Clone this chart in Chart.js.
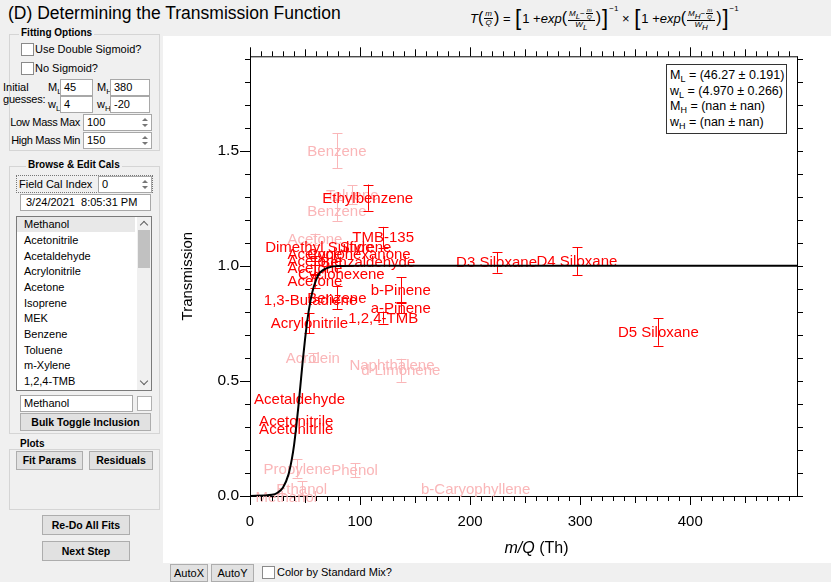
<!DOCTYPE html>
<html>
<head>
<meta charset="utf-8">
<script src="https://cdn.jsdelivr.net/npm/chart.js@4/dist/chart.umd.min.js"></script>
<style>
  body { margin:0; width:831px; height:582px; background:#f0f0f0; position:relative; overflow:hidden;
         font-family:"Liberation Sans", Arial, sans-serif; font-size:11px; color:#000; }
  .abs { position:absolute; white-space:nowrap; }
  #title { left:8px; top:3px; font-size:17.5px; }
  #formula { left:470px; top:3px; height:30px; font-family:"Liberation Sans Narrow","Liberation Sans",Arial,sans-serif;
             font-size:13px; font-style:italic; display:flex; align-items:center; }
  .frac { display:inline-flex; flex-direction:column; align-items:center; vertical-align:middle; font-size:8px; line-height:8px; margin:0 1px; }
  .frac > span:first-child { border-bottom:1px solid #000; padding:0 1px; }
  .frac .frac { font-size:6px; line-height:6px; }
  .bk { font-style:normal; font-size:22px; font-weight:200; line-height:22px; margin:0 1px; }
  .pr { font-style:normal; font-size:16px; }
  .sup { font-size:8px; position:relative; top:-10px; font-style:normal; }
  .up { font-style:normal; }
  #plotbg { left:163px; top:36px; width:668px; height:527px; background:#fff; }
  #chartbox { left:163px; top:36px; width:668px; height:527px; }
  .grp { border:1px solid #d5d5d5; }
  .gtitle { font-weight:bold; font-size:10px; background:#f0f0f0; padding:0 2px; }
  .cb { width:11px; height:11px; background:#fff; border:1px solid #8a8a8a; }
  .inp { background:#fff; border:1px solid #a8a8a8; line-height:15px; padding-left:3px; box-sizing:border-box; height:17px; }
  .spin { position:absolute; right:3px; top:3px; width:6px; height:9px; }
  .spin:before { content:""; position:absolute; left:0; top:0; border-left:3px solid transparent; border-right:3px solid transparent; border-bottom:3px solid #777; }
  .spin:after { content:""; position:absolute; left:0; bottom:0; border-left:3px solid transparent; border-right:3px solid transparent; border-top:3px solid #777; }
  .btn { background:#e1e1e1; border:1px solid #adadad; text-align:center; font-weight:bold; font-size:10.5px; box-sizing:border-box; }
  .btn2 { background:#e1e1e1; border:1px solid #adadad; text-align:center; box-sizing:border-box; font-size:11px; }
  .li { left:24px; }
  .rl { text-align:right; width:70px; letter-spacing:-0.3px; }
  sub { font-size:8px; vertical-align:-3px; line-height:0; }
  #fitbox { left:666px; top:64px; width:121px; height:70px; background:#fff; border:1px solid #333; box-sizing:border-box;
            font-size:12.5px; line-height:15.5px; padding:3px 0 0 3px; }
  #fitbox sub { font-size:9px; }
</style>
</head>
<body>
<div id="title" class="abs">(D) Determining the Transmission Function</div>
<div id="formula" class="abs">
  <span>T</span><span class="pr">(</span><span class="frac"><span>m</span><span>Q</span></span><span class="pr">)</span><span class="up">&nbsp;=&nbsp;</span>
  <span class="bk">[</span><span class="up">1 + </span><span>exp</span><span class="pr">(</span><span class="frac"><span>M<sub>L</sub>−<span class="frac"><span>m</span><span>Q</span></span></span><span>W<sub>L</sub></span></span><span class="pr">)</span><span class="bk">]</span><span class="sup">−1</span>
  <span class="up">&nbsp;×&nbsp;</span>
  <span class="bk">[</span><span class="up">1 + </span><span>exp</span><span class="pr">(</span><span class="frac"><span>M<sub>H</sub>−<span class="frac"><span>m</span><span>Q</span></span></span><span>W<sub>H</sub></span></span><span class="pr">)</span><span class="bk">]</span><span class="sup">−1</span>
</div>

<!-- Fitting options -->
<div class="abs grp" style="left:9px;top:34px;width:149px;height:115px;"></div>
<div class="abs gtitle" style="left:19px;top:27px;">Fitting Options</div>
<div class="abs cb" style="left:21px;top:43px;"></div>
<div class="abs" style="left:35px;top:43px;">Use Double Sigmoid?</div>
<div class="abs cb" style="left:21px;top:62px;"></div>
<div class="abs" style="left:35px;top:62px;">No Sigmoid?</div>
<div class="abs" style="left:3px;top:81px;">Initial</div>
<div class="abs" style="left:3px;top:93px;letter-spacing:-0.2px;">guesses:</div>
<div class="abs" style="left:48px;top:81px;">M<sub>L</sub></div>
<div class="abs inp" style="left:60px;top:79px;width:33px;">45</div>
<div class="abs" style="left:97px;top:81px;">M<sub>H</sub></div>
<div class="abs inp" style="left:110px;top:79px;width:40px;">380</div>
<div class="abs" style="left:48px;top:98px;">w<sub>L</sub></div>
<div class="abs inp" style="left:60px;top:96px;width:33px;">4</div>
<div class="abs" style="left:97px;top:98px;">w<sub>H</sub></div>
<div class="abs inp" style="left:110px;top:96px;width:40px;">-20</div>
<div class="abs rl" style="left:10px;top:116px;">Low Mass Max</div>
<div class="abs inp" style="left:83px;top:114px;width:69px;">100<span class="spin"></span></div>
<div class="abs rl" style="left:10px;top:134px;">High Mass Min</div>
<div class="abs inp" style="left:83px;top:132px;width:69px;">150<span class="spin"></span></div>

<!-- Browse & edit cals -->
<div class="abs grp" style="left:9px;top:166px;width:149px;height:266px;"></div>
<div class="abs gtitle" style="left:26px;top:159px;">Browse &amp; Edit Cals</div>
<div class="abs" style="left:16px;top:175px;width:137px;height:18px;border:1px dotted #777;box-sizing:border-box;"></div>
<div class="abs" style="left:19px;top:178px;">Field Cal Index</div>
<div class="abs inp" style="left:98px;top:176px;width:54px;">0<span class="spin"></span></div>
<div class="abs inp" style="left:20px;top:194px;width:131px;padding-left:5px;">3/24/2021&nbsp; 8:05:31 PM</div>
<div class="abs" style="left:16px;top:216px;width:136px;height:175px;background:#fff;border:1px solid #7a7a7a;box-sizing:border-box;"></div>
<div class="abs" style="left:17px;top:217px;width:118px;height:15px;background:#e8e8e8;"></div>
<div class="abs" style="left:137px;top:217px;width:14px;height:173px;background:#f0f0f0;"></div>
<div class="abs" style="left:138px;top:230px;width:12px;height:38px;background:#c1c1c1;"></div>
<div class="abs" style="left:141px;top:222px;width:5px;height:5px;border-left:1px solid #606060;border-top:1px solid #606060;transform:rotate(45deg);"></div>
<div class="abs" style="left:141px;top:378px;width:5px;height:5px;border-right:1px solid #606060;border-bottom:1px solid #606060;transform:rotate(45deg);"></div>
<div class="abs li" style="top:218px;">Methanol</div>
<div class="abs li" style="top:234px;">Acetonitrile</div>
<div class="abs li" style="top:250px;">Acetaldehyde</div>
<div class="abs li" style="top:265px;">Acrylonitrile</div>
<div class="abs li" style="top:281px;">Acetone</div>
<div class="abs li" style="top:297px;">Isoprene</div>
<div class="abs li" style="top:312px;">MEK</div>
<div class="abs li" style="top:328px;">Benzene</div>
<div class="abs li" style="top:344px;">Toluene</div>
<div class="abs li" style="top:359px;">m-Xylene</div>
<div class="abs li" style="top:375px;">1,2,4-TMB</div>
<div class="abs inp" style="left:20px;top:395px;width:113px;">Methanol</div>
<div class="abs cb" style="left:137px;top:396px;width:13px;height:13px;border-color:#b0b0b0;"></div>
<div class="abs btn" style="left:20px;top:413px;width:131px;height:18px;line-height:16px;">Bulk Toggle Inclusion</div>

<!-- Plots -->
<div class="abs grp" style="left:9px;top:449px;width:149px;height:59px;"></div>
<div class="abs gtitle" style="left:18px;top:438px;">Plots</div>
<div class="abs btn" style="left:16px;top:451px;width:67px;height:19px;line-height:17px;">Fit Params</div>
<div class="abs btn" style="left:89px;top:451px;width:64px;height:19px;line-height:17px;">Residuals</div>
<div class="abs btn" style="left:42px;top:515px;width:88px;height:20px;line-height:18px;">Re-Do All Fits</div>
<div class="abs btn" style="left:42px;top:541px;width:88px;height:20px;line-height:18px;">Next Step</div>

<div id="plotbg" class="abs"></div>
<div id="chartbox" class="abs"><canvas id="c" width="668" height="527"></canvas></div>
<div id="fitbox" class="abs">M<sub>L</sub> = (46.27 ± 0.191)<br>w<sub>L</sub> = (4.970 ± 0.266)<br>M<sub>H</sub> = (nan ± nan)<br>w<sub>H</sub> = (nan ± nan)</div>

<!-- bottom bar -->
<div class="abs btn2" style="left:170px;top:564px;width:38px;height:18px;line-height:16px;">AutoX</div>
<div class="abs btn2" style="left:211px;top:564px;width:43px;height:18px;line-height:16px;">AutoY</div>
<div class="abs cb" style="left:262px;top:566px;"></div>
<div class="abs" style="left:277px;top:566px;font-size:11px;">Color by Standard Mix?</div>

<script>
// Calibrations used in the fit: compound, m/Q (Th), transmission, uncertainty
const usedNames = ['Acetonitrile', 'Acetonitrile', 'Acetaldehyde', 'Acrylonitrile', '1,3-Butadiene', 'Benzene',
  'Dimethyl Sulfide', 'Styrene', 'Acetone', 'Cyclohexanone', 'Acetone', 'Benzaldehyde', 'Acetone', 'Cyclohexene', 'Acetone',
  'TMB-135', 'Ethylbenzene', 'b-Pinene', 'a-Pinene', '1,2,4-TMB', 'D3 Siloxane', 'D4 Siloxane', 'D5 Siloxane'];
const usedMq = [42, 42, 45, 54, 55, 79, 63, 105, 59, 99, 59, 107, 59, 83, 59, 121, 107, 137, 137, 121, 224, 297, 371];
const usedT = [0.325, 0.293, 0.42, 0.751, 0.85, 0.861, 1.081, 1.081, 1.053, 1.053, 1.022, 1.018, 0.99, 0.965, 0.935,
  1.124, 1.296, 0.896, 0.816, 0.775, 1.015, 1.02, 0.713];
const usedErr = [0, 0, 0, 0.043, 0, 0.05, 0, 0, 0, 0, 0.02, 0, 0.03, 0, 0.03, 0.045, 0.057, 0.055, 0.022, 0.026, 0.045, 0.06, 0.06];

// Calibrations excluded from the fit
const skipNames = ['Benzene', 'Benzene', 'Toluene', 'Acetone', 'Acrolein', 'Naphthalene', 'd-Limonene', 'Propylene', 'Phenol',
  'Ethanol', 'Methanol', 'b-Caryophyllene'];
const skipMq = [79, 79, 93, 59, 57, 129, 137, 43, 95, 47, 33, 205];
const skipT = [1.5, 1.24, 1.31, 1.115, 0.6, 0.568, 0.546, 0.12, 0.113, 0.033, -0.005, 0.03];
const skipErr = [0.075, 0.045, 0.04, 0.025, 0.02, 0, 0.05, 0.04, 0.03, 0.03, 0, 0];

// Fitted transmission curve
const fitMq = [0, 20, 25, 30, 35, 38, 40, 42, 44, 46, 48, 50, 52, 55, 58, 62, 66, 72, 80, 100, 500];
const fitT = [0, 0.005, 0.014, 0.037, 0.094, 0.16, 0.22, 0.30, 0.39, 0.49, 0.59, 0.68, 0.76, 0.85, 0.91, 0.96, 0.98, 0.994, 0.999, 1.0, 1.0];

// Axis ticks
const xTicks = [0, 100, 200, 300, 400];
const xTickLabels = ['0', '100', '200', '300', '400'];
const yTicks = [0, 0.5, 1.0, 1.5];
const yTickLabels = ['0.0', '0.5', '1.0', '1.5'];

const RED = '#ff0000';
const PINK = 'rgb(250,182,184)';
const FONT = '"Liberation Sans", Arial, sans-serif';

function pts(xs, ys) { return xs.map((x, i) => ({ x: x, y: ys[i] })); }

// Error bars and compound names, drawn under the fit curve
const calLabels = {
  id: 'calLabels',
  beforeDatasetsDraw(chart) {
    const ctx = chart.ctx, ys = chart.scales.y;
    ctx.save();
    chart.data.datasets.forEach((ds, di) => {
      if (!ds.names) return;
      const meta = chart.getDatasetMeta(di);
      ctx.strokeStyle = ds.labelColor;
      ctx.fillStyle = ds.labelColor;
      ctx.lineWidth = 1;
      meta.data.forEach((el, i) => {
        const e = ds.errs[i];
        if (e > 0) {
          const x = Math.round(el.x) + 0.5;
          const y1 = ys.getPixelForValue(ds.data[i].y + e);
          const y2 = ys.getPixelForValue(ds.data[i].y - e);
          ctx.beginPath();
          ctx.moveTo(x, y1); ctx.lineTo(x, y2);
          ctx.moveTo(x - 5, Math.round(y1) + 0.5); ctx.lineTo(x + 5, Math.round(y1) + 0.5);
          ctx.moveTo(x - 5, Math.round(y2) + 0.5); ctx.lineTo(x + 5, Math.round(y2) + 0.5);
          ctx.stroke();
        }
      });
      ctx.font = '15px ' + FONT;
      ctx.textAlign = 'center';
      ctx.textBaseline = 'middle';
      meta.data.forEach((el, i) => ctx.fillText(ds.names[i], el.x, el.y + 1));
    });
    ctx.restore();
  },
  afterDraw(chart) {
    const ctx = chart.ctx, a = chart.chartArea, xs = chart.scales.x, ys = chart.scales.y;
    ctx.save();
    ctx.strokeStyle = '#000';
    ctx.lineWidth = 1;
    ctx.beginPath();
    // top and right frame
    ctx.moveTo(a.left, a.top + 0.5); ctx.lineTo(a.right + 0.5, a.top + 0.5);
    ctx.moveTo(a.right + 0.5, a.top); ctx.lineTo(a.right + 0.5, a.bottom);
    // x ticks every 10 Th, top and bottom
    for (let v = 0; v <= xs.max; v += 10) {
      const x = Math.round(xs.getPixelForValue(v)) + 0.5;
      const len = v % 100 === 0 ? 9 : (v % 50 === 0 ? 7 : 5);
      ctx.moveTo(x, a.bottom); ctx.lineTo(x, a.bottom + len);
      ctx.moveTo(x, a.top); ctx.lineTo(x, a.top - len);
    }
    // y ticks every 0.1, left and right
    for (let k = 0; k <= 19; k++) {
      const y = Math.round(ys.getPixelForValue(k / 10)) + 0.5;
      const len = k % 5 === 0 ? 10 : 5;
      ctx.moveTo(a.left, y); ctx.lineTo(a.left - len, y);
      ctx.moveTo(a.right, y); ctx.lineTo(a.right + 6, y);
    }
    ctx.stroke();
    // x axis title with italic m/Q
    ctx.fillStyle = '#000';
    ctx.textBaseline = 'middle';
    ctx.textAlign = 'left';
    const f1 = 'italic 16px ' + FONT, f2 = '16px ' + FONT;
    ctx.font = f1; const w1 = ctx.measureText('m/Q').width;
    ctx.font = f2; const w2 = ctx.measureText(' (Th)').width;
    const cx = (a.left + a.right) / 2 + 13, cy = a.bottom + 53;
    ctx.font = f1; ctx.fillText('m/Q', cx - (w1 + w2) / 2, cy);
    ctx.font = f2; ctx.fillText(' (Th)', cx - (w1 + w2) / 2 + w1, cy);
    ctx.restore();
  }
};

new Chart(document.getElementById('c'), {
  data: {
    datasets: [
      { type: 'scatter', data: pts(skipMq, skipT), names: skipNames, errs: skipErr, labelColor: PINK, pointRadius: 0, pointHoverRadius: 0 },
      { type: 'scatter', data: pts(usedMq, usedT), names: usedNames, errs: usedErr, labelColor: RED, pointRadius: 0, pointHoverRadius: 0 },
      { type: 'line', data: pts(fitMq, fitT), borderColor: '#000', borderWidth: 2, pointRadius: 0,
        cubicInterpolationMode: 'monotone', fill: false }
    ]
  },
  options: {
    responsive: false,
    devicePixelRatio: 1,
    animation: false,
    events: [],
    layout: { padding: { top: 20, right: 34, left: 0, bottom: 0 } },
    plugins: { legend: { display: false }, tooltip: { enabled: false } },
    scales: {
      x: {
        type: 'linear', min: 0, max: 497,
        afterBuildTicks: s => { s.ticks = xTicks.map(v => ({ value: v })); },
        afterFit: s => { s.height = 67; },
        grid: { display: false, drawTicks: false },
        border: { display: true, color: '#000', width: 1 },
        ticks: { color: '#000', font: { family: FONT, size: 15 }, padding: 17, maxRotation: 0,
                 callback: (v) => xTickLabels[xTicks.indexOf(v)] }
      },
      y: {
        type: 'linear', min: 0, max: 1.91,
        afterBuildTicks: s => { s.ticks = yTicks.map(v => ({ value: v })); },
        afterFit: s => { s.width = 87; },
        grid: { display: false, drawTicks: false },
        border: { display: true, color: '#000', width: 1 },
        ticks: { color: '#000', font: { family: FONT, size: 15.5 }, padding: 11,
                 callback: (v) => yTickLabels[yTicks.indexOf(v)] },
        title: { display: true, text: 'Transmission', color: '#000', font: { family: FONT, size: 15 }, padding: { top: 16, bottom: 0 } }
      }
    }
  },
  plugins: [calLabels]
});
</script>
</body>
</html>
